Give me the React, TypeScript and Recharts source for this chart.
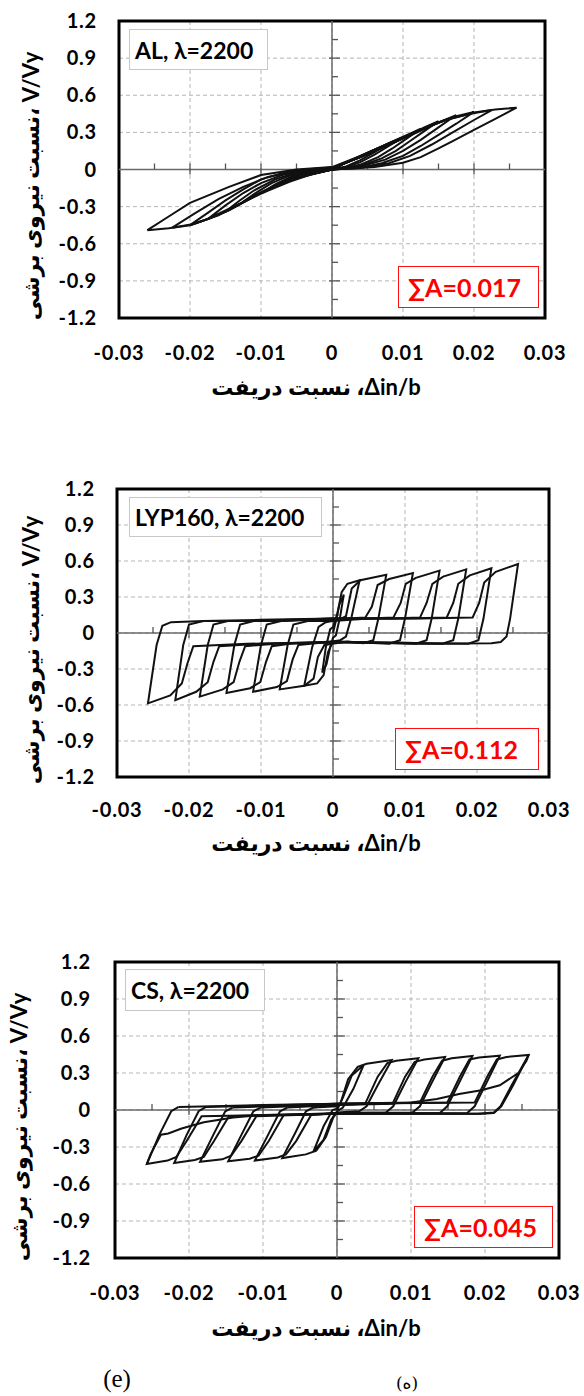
import { CartesianGrid, Line, LineChart, ReferenceArea, ReferenceLine, XAxis, YAxis } from 'recharts'

type Pt = [number, number]

const xTicks = [-0.03, -0.02, -0.01, 0, 0.01, 0.02, 0.03]
const yTicks = [-1.2, -0.9, -0.6, -0.3, 0, 0.3, 0.6, 0.9, 1.2]
const xMinorTicks = [-0.025, -0.015, -0.005, 0.005, 0.015, 0.025]
const xMajorTicks = [-0.02, -0.01, 0.01, 0.02]
const yMinorTicks = [-1.05, -0.75, -0.45, -0.15, 0.15, 0.45, 0.75, 1.05]
const yMajorTicks = [-0.9, -0.6, -0.3, 0.3, 0.6, 0.9]

// AL, λ=2200
const alCycle1: Pt[] = [[0, 0], [0.002, 0.055], [0.004, 0.11], [0.006, 0.16], [0.0075, 0.195], [0.006, 0.14], [0.004, 0.075], [0.002, 0.025], [0, 0], [-0.002, -0.025], [-0.004, -0.055], [-0.006, -0.09], [-0.0075, -0.12], [-0.006, -0.075], [-0.004, -0.035], [-0.002, -0.008], [0, 0.005]]
const alCycle2: Pt[] = [[0, 0.005], [0.003, 0.08], [0.006, 0.16], [0.008, 0.21], [0.01, 0.26], [0.008, 0.19], [0.006, 0.12], [0.004, 0.06], [0.002, 0.02], [0, 0], [-0.003, -0.035], [-0.006, -0.09], [-0.008, -0.14], [-0.01, -0.19], [-0.008, -0.12], [-0.006, -0.065], [-0.004, -0.025], [-0.002, -0.005], [0, 0.008]]
const alCycle3: Pt[] = [[0, 0.008], [0.003, 0.08], [0.006, 0.16], [0.009, 0.24], [0.011, 0.29], [0.0125, 0.33], [0.0105, 0.25], [0.0085, 0.17], [0.0065, 0.1], [0.004, 0.04], [0.002, 0.01], [0, 0], [-0.003, -0.04], [-0.006, -0.1], [-0.009, -0.17], [-0.011, -0.22], [-0.0125, -0.26], [-0.0105, -0.18], [-0.0085, -0.11], [-0.006, -0.05], [-0.003, -0.01], [0, 0.01]]
const alCycle4: Pt[] = [[0, 0.01], [0.004, 0.1], [0.008, 0.2], [0.011, 0.28], [0.013, 0.34], [0.015, 0.39], [0.013, 0.31], [0.011, 0.23], [0.009, 0.15], [0.007, 0.09], [0.004, 0.03], [0, 0], [-0.004, -0.05], [-0.008, -0.13], [-0.011, -0.21], [-0.013, -0.28], [-0.015, -0.34], [-0.013, -0.25], [-0.011, -0.17], [-0.008, -0.08], [-0.005, -0.025], [0, 0.01]]
const alCycle5: Pt[] = [[0, 0.01], [0.004, 0.1], [0.008, 0.2], [0.012, 0.3], [0.015, 0.38], [0.0175, 0.44], [0.015, 0.34], [0.0125, 0.24], [0.01, 0.15], [0.0075, 0.08], [0.004, 0.025], [0, 0], [-0.004, -0.05], [-0.008, -0.13], [-0.012, -0.25], [-0.015, -0.33], [-0.0175, -0.4], [-0.015, -0.29], [-0.0125, -0.19], [-0.01, -0.11], [-0.007, -0.045], [-0.004, -0.01], [0, 0.012]]
const alCycle6: Pt[] = [[0, 0.012], [0.004, 0.1], [0.008, 0.2], [0.012, 0.31], [0.015, 0.38], [0.0175, 0.43], [0.02, 0.465], [0.0175, 0.37], [0.015, 0.28], [0.0125, 0.19], [0.01, 0.11], [0.007, 0.05], [0.004, 0.015], [0, 0], [-0.004, -0.05], [-0.008, -0.13], [-0.012, -0.25], [-0.015, -0.34], [-0.0175, -0.4], [-0.02, -0.45], [-0.0175, -0.35], [-0.015, -0.25], [-0.0125, -0.16], [-0.01, -0.08], [-0.007, -0.03], [-0.004, 0], [0, 0.015]]
const alCycle7: Pt[] = [[0, 0.015], [0.004, 0.1], [0.008, 0.2], [0.012, 0.31], [0.016, 0.4], [0.0195, 0.45], [0.0225, 0.48], [0.02, 0.4], [0.017, 0.3], [0.014, 0.2], [0.011, 0.11], [0.008, 0.05], [0.004, 0.012], [0, 0], [-0.004, -0.05], [-0.008, -0.13], [-0.012, -0.25], [-0.016, -0.37], [-0.0195, -0.44], [-0.0225, -0.47], [-0.0195, -0.36], [-0.016, -0.24], [-0.0125, -0.14], [-0.009, -0.06], [-0.005, -0.01], [0, 0.018]]
const alCycle8: Pt[] = [[0, 0.018], [0.004, 0.11], [0.008, 0.21], [0.012, 0.31], [0.016, 0.4], [0.02, 0.46], [0.023, 0.485], [0.026, 0.5], [0.023, 0.41], [0.02, 0.32], [0.017, 0.23], [0.015, 0.17], [0.0125, 0.1], [0.01, 0.055], [0.006, 0.02], [0, 0], [-0.005, -0.07], [-0.01, -0.19], [-0.0145, -0.33], [-0.0175, -0.4], [-0.02, -0.45], [-0.023, -0.475], [-0.026, -0.49], [-0.023, -0.38], [-0.02, -0.27], [-0.0145, -0.14], [-0.01, -0.045], [-0.005, 0], [0, 0.02]]

// LYP160, λ=2200
const lypCycle1: Pt[] = [[0, 0], [0.0004, 0.1], [0.0009, 0.24], [0.0015, 0.32], [0.001, 0.14], [0.0004, -0.02], [0, -0.04], [-0.0004, -0.12], [-0.0009, -0.26], [-0.0015, -0.33], [-0.001, -0.12], [-0.0004, 0.03], [0, 0.05]]
const lypCycle2: Pt[] = [[0, 0.05], [0.0006, 0.16], [0.0012, 0.34], [0.002, 0.41], [0.0037, 0.44], [0.0026, 0.14], [0.0018, -0.03], [0.001, -0.06], [0, -0.07], [-0.0007, -0.16], [-0.0013, -0.35], [-0.0022, -0.42], [-0.004, -0.44], [-0.0029, -0.12], [-0.002, 0.05], [-0.001, 0.09]]
const lypCycle3: Pt[] = [[-0.001, 0.09], [0.0008, 0.11], [0.0018, 0.14], [0.0026, 0.37], [0.0038, 0.44], [0.0074, 0.485], [0.0063, 0.12], [0.0056, -0.06], [0.0042, -0.085], [0.002, -0.07], [-0.0012, -0.1], [-0.0021, -0.2], [-0.0027, -0.38], [-0.004, -0.44], [-0.0074, -0.47], [-0.0063, -0.1], [-0.0055, 0.07], [-0.0035, 0.1], [-0.001, 0.1]]
const lypCycle4: Pt[] = [[-0.001, 0.1], [0.002, 0.12], [0.0045, 0.13], [0.0054, 0.22], [0.0062, 0.4], [0.0078, 0.45], [0.0111, 0.5], [0.01, 0.12], [0.0093, -0.06], [0.0078, -0.09], [0.004, -0.08], [0, -0.07], [-0.0048, -0.1], [-0.0056, -0.22], [-0.0064, -0.4], [-0.0078, -0.45], [-0.0111, -0.49], [-0.01, -0.1], [-0.0092, 0.07], [-0.0072, 0.1], [-0.004, 0.11]]
const lypCycle5: Pt[] = [[-0.004, 0.11], [0, 0.1], [0.005, 0.12], [0.0084, 0.13], [0.0094, 0.25], [0.0101, 0.41], [0.0115, 0.46], [0.0148, 0.52], [0.0137, 0.12], [0.013, -0.06], [0.0115, -0.09], [0.006, -0.08], [0, -0.07], [-0.006, -0.09], [-0.0085, -0.11], [-0.0093, -0.24], [-0.0101, -0.41], [-0.0115, -0.46], [-0.0148, -0.5], [-0.0137, -0.1], [-0.0129, 0.07], [-0.011, 0.1], [-0.006, 0.11]]
const lypCycle6: Pt[] = [[-0.006, 0.11], [0, 0.12], [0.008, 0.12], [0.0121, 0.13], [0.013, 0.25], [0.0138, 0.41], [0.0153, 0.47], [0.0185, 0.53], [0.0174, 0.12], [0.0167, -0.06], [0.0152, -0.09], [0.009, -0.08], [0, -0.08], [-0.008, -0.09], [-0.0122, -0.11], [-0.013, -0.24], [-0.0138, -0.41], [-0.0153, -0.47], [-0.0185, -0.53], [-0.0174, -0.1], [-0.0166, 0.07], [-0.0146, 0.1], [-0.008, 0.1]]
const lypCycle7: Pt[] = [[-0.008, 0.1], [0, 0.12], [0.01, 0.12], [0.0158, 0.13], [0.0167, 0.25], [0.0174, 0.41], [0.019, 0.48], [0.022, 0.54], [0.0209, 0.12], [0.0202, -0.06], [0.0188, -0.09], [0.012, -0.085], [0, -0.075], [-0.01, -0.09], [-0.0158, -0.11], [-0.0166, -0.24], [-0.0174, -0.41], [-0.019, -0.49], [-0.0219, -0.56], [-0.0208, -0.1], [-0.02, 0.07], [-0.018, 0.1], [-0.01, 0.11]]
const lypCycle8: Pt[] = [[-0.01, 0.11], [0, 0.12], [0.012, 0.12], [0.0194, 0.13], [0.0203, 0.25], [0.021, 0.42], [0.0226, 0.51], [0.0257, 0.575], [0.0246, 0.12], [0.0241, -0.03], [0.0233, -0.075], [0.022, -0.085], [0.012, -0.09], [0, -0.075], [-0.012, -0.09], [-0.0194, -0.11], [-0.0202, -0.25], [-0.021, -0.42], [-0.0226, -0.52], [-0.0257, -0.586], [-0.0245, -0.1], [-0.0237, 0.06], [-0.0225, 0.09], [-0.018, 0.1], [-0.01, 0.1], [0, 0.11]]

// CS, λ=2200
const csCycle1: Pt[] = [[0, 0], [0.0008, 0.1], [0.002, 0.28], [0.0036, 0.365], [0.0022, 0.17], [0.0008, 0.02], [0, -0.01], [-0.0008, -0.08], [-0.0018, -0.24], [-0.0032, -0.34], [-0.0018, -0.13], [-0.0006, 0], [0, 0.01]]
const csCycle2: Pt[] = [[0, 0.01], [0.0005, 0.06], [0.0015, 0.25], [0.0028, 0.35], [0.004, 0.375], [0.0074, 0.405], [0.0055, 0.2], [0.004, 0.03], [0.003, -0.01], [0, -0.02], [-0.0005, -0.06], [-0.0015, -0.22], [-0.0028, -0.33], [-0.0042, -0.36], [-0.0074, -0.39], [-0.0056, -0.18], [-0.0042, -0.01], [-0.0032, 0.02], [0, 0.03]]
const csCycle3: Pt[] = [[-0.0032, 0.02], [0, 0.04], [0.0038, 0.05], [0.0055, 0.27], [0.0068, 0.38], [0.008, 0.4], [0.011, 0.42], [0.0092, 0.22], [0.0076, 0.03], [0.0066, -0.02], [0, -0.025], [-0.0035, -0.04], [-0.0055, -0.25], [-0.0069, -0.36], [-0.008, -0.385], [-0.0111, -0.41], [-0.0093, -0.2], [-0.0077, -0.01], [-0.0067, 0.02]]
const csCycle4: Pt[] = [[-0.0067, 0.02], [0, 0.04], [0.0075, 0.05], [0.0092, 0.27], [0.0105, 0.39], [0.0118, 0.41], [0.0146, 0.43], [0.0128, 0.22], [0.0112, 0.03], [0.0102, -0.02], [0, -0.025], [-0.0072, -0.04], [-0.0092, -0.25], [-0.0106, -0.37], [-0.0118, -0.395], [-0.0147, -0.415], [-0.0129, -0.2], [-0.0113, -0.01], [-0.0103, 0.02]]
const csCycle5: Pt[] = [[-0.0103, 0.02], [0, 0.045], [0.0112, 0.06], [0.0129, 0.27], [0.0142, 0.4], [0.0155, 0.42], [0.0183, 0.438], [0.0165, 0.22], [0.0149, 0.03], [0.0139, -0.025], [0, -0.03], [-0.0109, -0.05], [-0.0129, -0.25], [-0.0143, -0.37], [-0.0155, -0.4], [-0.0185, -0.42], [-0.0167, -0.2], [-0.0151, -0.01], [-0.0141, 0.02]]
const csCycle6: Pt[] = [[-0.0141, 0.02], [0, 0.05], [0.0149, 0.06], [0.0166, 0.27], [0.0179, 0.41], [0.0192, 0.425], [0.022, 0.44], [0.0202, 0.22], [0.0186, 0.03], [0.0176, -0.025], [0, -0.03], [-0.0146, -0.05], [-0.0166, -0.25], [-0.018, -0.38], [-0.0192, -0.405], [-0.022, -0.43], [-0.0203, -0.2], [-0.0187, -0.01], [-0.0177, 0.025]]
const csCycle7: Pt[] = [[-0.0177, 0.025], [0, 0.05], [0.0186, 0.06], [0.0203, 0.27], [0.0216, 0.41], [0.0229, 0.43], [0.0259, 0.446], [0.0238, 0.2], [0.0222, 0.03], [0.0212, -0.025], [0.0195, -0.03], [0, -0.03], [-0.0183, -0.05], [-0.0203, -0.25], [-0.0217, -0.38], [-0.0229, -0.41], [-0.0257, -0.438], [-0.024, -0.2], [-0.0224, -0.01], [-0.0214, 0.025]]
const csCycle8: Pt[] = [[-0.0214, 0.025], [-0.01, 0.04], [0, 0.05], [0.01, 0.06], [0.0135, 0.09], [0.0165, 0.13], [0.0195, 0.16], [0.022, 0.2], [0.0245, 0.3], [0.0256, 0.4], [0.0259, 0.446], [0.0236, 0.2], [0.0221, 0.03], [0.0212, -0.02], [0.019, -0.03], [0, -0.03], [-0.01, -0.04], [-0.014, -0.06], [-0.018, -0.1], [-0.021, -0.15], [-0.0228, -0.19], [-0.0238, -0.2], [-0.0252, -0.36], [-0.0257, -0.438]]

const alCycles = [alCycle1, alCycle2, alCycle3, alCycle4, alCycle5, alCycle6, alCycle7, alCycle8]
const lypCycles = [lypCycle1, lypCycle2, lypCycle3, lypCycle4, lypCycle5, lypCycle6, lypCycle7, lypCycle8]
const csCycles = [csCycle1, csCycle2, csCycle3, csCycle4, csCycle5, csCycle6, csCycle7, csCycle8]

const FONT = "Lato, 'DejaVu Sans', sans-serif"
const W = 584
const H = 400

type Box = { left: number; top: number; width: number; height: number }

type PanelProps = {
  top: number
  plot: { left: number; right: number; top: number; bottom: number }
  cycles: Pt[][]
  label: string
  labelBox: Box
  area: string
  areaBox: Box
  yLabelMargin: number
  xLabelMargin: number
  yTitleX: number
  yTitleY: number
  xTitleY: number
}

function Panel(p: PanelProps) {
  const dx = 0.06 / (p.plot.right - p.plot.left)
  const dy = 2.4 / (p.plot.bottom - p.plot.top)
  const tickFont = { fill: '#000', fontSize: 20, fontWeight: 700, fontFamily: FONT, letterSpacing: 0.8 }
  return (
    <div style={{ position: 'absolute', left: 0, top: p.top, width: W, height: H }}>
      <LineChart width={W} height={H} margin={{ top: p.plot.top, right: W - p.plot.right, left: 0, bottom: 0 }}>
        <CartesianGrid stroke="#b5b5b5" strokeDasharray="4 3" />
        <XAxis type="number" dataKey="x" domain={[-0.03, 0.03]} ticks={xTicks} interval={0} height={H - p.plot.bottom}
          axisLine={false} tickLine={false} tickMargin={p.xLabelMargin} tick={tickFont} />
        <YAxis type="number" domain={[-1.2, 1.2]} ticks={yTicks} interval={0} width={p.plot.left}
          axisLine={false} tickLine={false} tickMargin={p.yLabelMargin} tick={tickFont} />
        <ReferenceLine x={0} stroke="#6a6a6a" strokeWidth={1.5} />
        <ReferenceLine y={0} stroke="#6a6a6a" strokeWidth={1.5} />
        {yMajorTicks.map((v) => (
          <ReferenceLine key={'ym' + v} segment={[{ x: -3 * dx, y: v }, { x: 8 * dx, y: v }]} stroke="#555" strokeWidth={1.3} />
        ))}
        {yMinorTicks.map((v) => (
          <ReferenceLine key={'yn' + v} segment={[{ x: 0, y: v }, { x: 6 * dx, y: v }]} stroke="#555" strokeWidth={1.3} />
        ))}
        {xMajorTicks.map((v) => (
          <ReferenceLine key={'xm' + v} segment={[{ x: v, y: -5 * dy }, { x: v, y: 6 * dy }]} stroke="#555" strokeWidth={1.3} />
        ))}
        {xMinorTicks.map((v) => (
          <ReferenceLine key={'xn' + v} segment={[{ x: v, y: 0 }, { x: v, y: 6 * dy }]} stroke="#555" strokeWidth={1.3} />
        ))}
        {p.cycles.map((c, i) => (
          <Line key={i} data={c.map(([x, y]) => ({ x, y }))} dataKey="y" type="linear" stroke="#111" strokeWidth={2}
            dot={false} activeDot={false} isAnimationActive={false} />
        ))}
        <ReferenceArea x1={-0.03} x2={0.03} y1={-1.2} y2={1.2} fill="none" fillOpacity={0} stroke="#000" strokeWidth={3} />
      </LineChart>
      <div style={{
        position: 'absolute', ...p.labelBox, boxSizing: 'border-box', border: '1px solid #c8c8c8', background: '#fff',
        display: 'flex', alignItems: 'center', paddingLeft: 5, fontFamily: FONT, fontWeight: 700, fontSize: 23, whiteSpace: 'nowrap',
      }}>{p.label}</div>
      <div style={{
        position: 'absolute', ...p.areaBox, boxSizing: 'border-box', border: '1px solid #ff1010', background: '#fff',
        display: 'flex', alignItems: 'center', paddingLeft: 9, fontFamily: FONT, fontWeight: 700, fontSize: 25, color: '#ff0000', whiteSpace: 'nowrap',
      }}>{p.area}</div>
      <div style={{
        position: 'absolute', left: 316, top: p.xTitleY, transform: 'translate(-50%, -50%)', fontFamily: FONT,
        fontWeight: 700, fontSize: 22, whiteSpace: 'nowrap',
      }}>نسبت دریفت ،Δin/b</div>
      <div style={{
        position: 'absolute', left: p.yTitleX, top: p.yTitleY, transform: 'translate(-50%, -50%) rotate(-90deg)', fontFamily: FONT,
        fontWeight: 700, fontSize: 22, whiteSpace: 'nowrap',
      }}>نسبت نیروی برشی، V/Vy</div>
    </div>
  )
}

export default function App() {
  return (
    <div style={{ position: 'absolute', left: 0, top: 0, width: 584, height: 1396, background: '#fff', overflow: 'hidden' }}>
      <Panel top={0} plot={{ left: 119, right: 545, top: 21, bottom: 318 }} cycles={alCycles}
        label="AL, λ=2200" labelBox={{ left: 129, top: 29, width: 139, height: 41 }}
        area="∑A=0.017" areaBox={{ left: 398, top: 266, width: 141, height: 42 }}
        yLabelMargin={16} xLabelMargin={22} yTitleX={30} yTitleY={186} xTitleY={386} />
      <Panel top={460} plot={{ left: 117, right: 549, top: 29, bottom: 317 }} cycles={lypCycles}
        label="LYP160, λ=2200" labelBox={{ left: 129, top: 37, width: 193, height: 40 }}
        area="∑A=0.112" areaBox={{ left: 395, top: 268, width: 144, height: 42 }}
        yLabelMargin={16} xLabelMargin={20} yTitleX={30} yTitleY={190} xTitleY={382} />
      <Panel top={940} plot={{ left: 115, right: 559, top: 22, bottom: 318 }} cycles={csCycles}
        label="CS, λ=2200" labelBox={{ left: 125, top: 29, width: 140, height: 42 }}
        area="∑A=0.045" areaBox={{ left: 414, top: 266, width: 139, height: 42 }}
        yLabelMargin={18} xLabelMargin={22} yTitleX={18} yTitleY={187} xTitleY={387} />
      <div style={{ position: 'absolute', left: 117, top: 1379, transform: 'translate(-50%, -50%)', fontFamily: "'Liberation Serif', serif", fontSize: 25 }}>(e)</div>
      <div style={{ position: 'absolute', left: 407, top: 1383, transform: 'translate(-50%, -50%)', fontFamily: "'DejaVu Serif', 'DejaVu Sans', serif", fontSize: 17 }}>(ه)</div>
    </div>
  )
}
